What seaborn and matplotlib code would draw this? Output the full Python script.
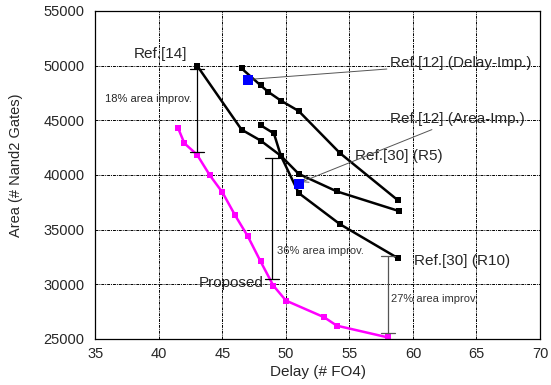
import pandas as pd
import seaborn as sns
import matplotlib
matplotlib.use("Agg")
import matplotlib.pyplot as plt

# Ref.[14] / Ref.[30] (R5) curve
r5_delay = [43.0, 46.5, 48.0, 49.6, 51.0, 54.0, 58.9]
r5_area = [50000, 44150, 43150, 41750, 40100, 38500, 36700]

# Ref.[30] (R10) curve
r10_delay = [48.0, 49.05, 49.6, 51.0, 54.25, 58.8]
r10_area = [44550, 43800, 41750, 38350, 35500, 32400]

# upper curve
up_delay = [46.5, 48.0, 48.6, 49.6, 51.0, 54.25, 58.8]
up_area = [49750, 48200, 47600, 46800, 45850, 42000, 37700]

# Ref.[12] points
ref12_delay = [47.0, 51.0]
ref12_area = [48700, 39150]

# Proposed
prop_delay = [41.5, 42.0, 43.0, 44.0, 45.0, 46.0, 47.0, 48.0, 49.0, 50.0, 53.0, 54.0, 58.0]
prop_area = [44300, 42900, 41850, 39980, 38400, 36300, 34380, 32090, 29890, 28510, 26990, 26220, 25150]

sns.set_style("white")
plt.rcParams['font.family'] = ['Liberation Sans', 'DejaVu Sans']

fig = plt.figure(figsize=(5.51, 3.85), dpi=100)
ax = fig.add_axes([0.1733, 0.1195, 0.8067, 0.852])

ax.grid(True, color='black', linestyle=(0, (3, 1, 1, 1)), linewidth=0.7)
ax.set_axisbelow(True)

sns.lineplot(x=r5_delay, y=r5_area, sort=False, estimator=None, ax=ax,
             color='black', lw=1.8, marker='s', markersize=5, markeredgewidth=0)
sns.lineplot(x=r10_delay, y=r10_area, sort=False, estimator=None, ax=ax,
             color='black', lw=1.8, marker='s', markersize=5, markeredgewidth=0)
sns.lineplot(x=up_delay, y=up_area, sort=False, estimator=None, ax=ax,
             color='black', lw=1.8, marker='s', markersize=5, markeredgewidth=0)
sns.lineplot(x=prop_delay, y=prop_area, sort=False, estimator=None, ax=ax,
             color='#ff00ff', lw=1.8, marker='s', markersize=4.5, markeredgewidth=0)
sns.scatterplot(x=ref12_delay, y=ref12_area, ax=ax, color='#0000ff',
                marker='s', s=55, linewidth=0, zorder=5)

# improvement bars
def imp_bar(x, y0, y1, color, cap=0.55):
    ax.plot([x, x], [y0, y1], color=color, lw=0.9)
    ax.plot([x - cap, x + cap], [y0, y0], color=color, lw=0.9)
    ax.plot([x - cap, x + cap], [y1, y1], color=color, lw=0.9)

imp_bar(43.0, 49650, 42090, 'black')
imp_bar(48.9, 41580, 30530, 'black')
imp_bar(58.0, 32550, 25570, '#555555')

ax.text(35.75, 46990, "18% area improv.", fontsize=8, va='center', ha='left')
ax.text(49.3, 33010, "36% area improv.", fontsize=8, va='center', ha='left', color='#333333')
ax.text(58.3, 28640, "27% area improv.", fontsize=8, va='center', ha='left', color='#333333')

ax.text(38.05, 51050, "Ref.[14]", fontsize=11, va='center', ha='left')
ax.text(43.1, 30100, "Proposed", fontsize=11, va='center', ha='left')
ax.text(55.4, 41700, "Ref.[30] (R5)", fontsize=11, va='center', ha='left')
ax.text(60.1, 32090, "Ref.[30] (R10)", fontsize=11, va='center', ha='left')

ax.annotate("Ref.[12] (Delay-Imp.)", xy=(47.2, 48750), xytext=(58.2, 50200),
            fontsize=11, va='center', ha='left',
            arrowprops=dict(arrowstyle='-', color='#555555', lw=0.7,
                            shrinkA=0, shrinkB=0))
ax.annotate("Ref.[12] (Area-Imp.)", xy=(51.2, 39350), xytext=(58.2, 45090),
            fontsize=11, va='center', ha='left',
            arrowprops=dict(arrowstyle='->', color='#555555', lw=0.7,
                            shrinkA=0, shrinkB=0))

ax.set_xlim(35, 70)
ax.set_ylim(25000, 55000)
ax.set_xticks(range(35, 71, 5))
ax.set_yticks(range(25000, 55001, 5000))
ax.tick_params(axis='y', direction='in', length=4, width=0.8, labelsize=10.5, pad=8)
ax.tick_params(axis='x', direction='in', length=4, width=0.8, labelsize=10.5, pad=6)
ax.set_xlabel("Delay (# FO4)", fontsize=11, labelpad=3)
ax.set_ylabel("Area (# Nand2 Gates)", fontsize=10.5)
ax.yaxis.set_label_coords(-0.163, 0.53)
for s in ax.spines.values():
    s.set_color('black')
    s.set_linewidth(0.9)

fig.savefig("out.png", dpi=100)
